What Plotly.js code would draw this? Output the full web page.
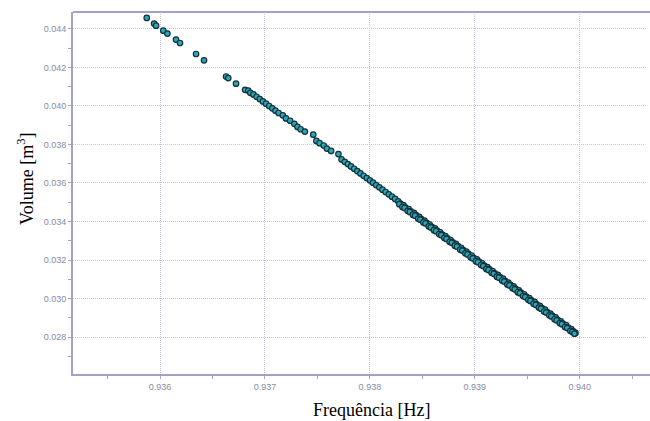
<!DOCTYPE html>
<html>
<head>
<meta charset="utf-8">
<script src="https://cdn.plot.ly/plotly-3.0.1.min.js"></script>
<style>html,body{margin:0;padding:0;background:#fff;overflow:hidden;}#chart{width:650px;height:421px;}</style>
</head>
<body>
<div id="chart"></div>
<script>
// Frequência [Hz]
const freq = [
  0.935873, 0.935943, 0.935962, 0.936031, 0.936070, 0.936152, 0.936190, 0.936343, 0.936419,
  0.936629, 0.936650, 0.936724, 0.936810,
  0.93684, 0.93686, 0.93689, 0.93692, 0.93695, 0.93698, 0.93701, 0.93704, 0.93707, 0.93710,
  0.93713, 0.93717, 0.93720, 0.93724, 0.93728, 0.93731, 0.93734, 0.93738, 0.93746, 0.93749,
  0.93752, 0.93756, 0.93759, 0.93763, 0.93770, 0.93773, 0.93776, 0.93779, 0.93782, 0.93785,
  0.93788, 0.93791, 0.93794, 0.93797, 0.93800, 0.93803, 0.93806, 0.93809, 0.93812, 0.93815,
  0.93818, 0.93821, 0.93824, 0.93827, 0.93829, 0.93832, 0.93834, 0.93837, 0.93839, 0.93842,
  0.93844, 0.93847, 0.93849, 0.93852, 0.93854, 0.93857, 0.93859, 0.93862, 0.93864, 0.93867,
  0.93869, 0.93872, 0.93874, 0.93877, 0.93879, 0.93882, 0.93884, 0.93887, 0.93889, 0.93892,
  0.93894, 0.93897, 0.93899, 0.93902, 0.93904, 0.93907, 0.93909, 0.93912, 0.93914, 0.93917,
  0.93919, 0.93922, 0.93924, 0.93927, 0.93929, 0.93932, 0.93934, 0.93937, 0.93939, 0.93942,
  0.93944, 0.93947, 0.93949, 0.93952, 0.93954, 0.93957, 0.93959, 0.93962, 0.93964, 0.93967,
  0.93969, 0.93972, 0.93974, 0.93977, 0.93979, 0.93982, 0.93984, 0.93987, 0.93989, 0.93992,
  0.93994, 0.93996
];
// Volume [m³]
const volume = [
  0.04457, 0.04428, 0.04417, 0.04391, 0.04376, 0.04345, 0.04327, 0.04270, 0.04237,
  0.04153, 0.04145, 0.04116, 0.04084,
  0.040801, 0.040680, 0.040600, 0.040479, 0.040359, 0.040238, 0.040117, 0.039997, 0.039876, 0.039755,
  0.039635, 0.039514, 0.039353, 0.039233, 0.039072, 0.038911, 0.038790, 0.038670, 0.038509, 0.038187,
  0.038066, 0.037946, 0.037785, 0.037664, 0.037503, 0.037222, 0.037101, 0.036980, 0.036860, 0.036739,
  0.036618, 0.036498, 0.036377, 0.036256, 0.036136, 0.036015, 0.035894, 0.035774, 0.035653, 0.035532,
  0.035412, 0.035291, 0.035170, 0.035050, 0.034929, 0.034849, 0.034728, 0.034648, 0.034527, 0.034446,
  0.034326, 0.034245, 0.034125, 0.034044, 0.033924, 0.033843, 0.033722, 0.033642, 0.033521, 0.033441,
  0.033320, 0.033240, 0.033119, 0.033039, 0.032918, 0.032838, 0.032717, 0.032636, 0.032516, 0.032435,
  0.032315, 0.032234, 0.032114, 0.032033, 0.031913, 0.031832, 0.031712, 0.031631, 0.031510, 0.031430,
  0.031309, 0.031229, 0.031108, 0.031028, 0.030907, 0.030827, 0.030706, 0.030626, 0.030505, 0.030424,
  0.030304, 0.030223, 0.030103, 0.030022, 0.029902, 0.029821, 0.029701, 0.029620, 0.029499, 0.029419,
  0.029298, 0.029218, 0.029097, 0.029017, 0.028896, 0.028816, 0.028695, 0.028615, 0.028494, 0.028413,
  0.028293, 0.028212
];
// denser run of readings in the lower part of the curve
const freqDense = [
  0.93828, 0.93831, 0.93833, 0.93836, 0.93838, 0.93841, 0.93843, 0.93846, 0.93848, 0.93851,
  0.93853, 0.93856, 0.93858, 0.93861, 0.93863, 0.93866, 0.93868, 0.93871, 0.93873, 0.93876,
  0.93878, 0.93881, 0.93883, 0.93886, 0.93888, 0.93891, 0.93893, 0.93896, 0.93898, 0.93901,
  0.93903, 0.93906, 0.93908, 0.93911, 0.93913, 0.93916, 0.93918, 0.93921, 0.93923, 0.93926,
  0.93928, 0.93931, 0.93933, 0.93936, 0.93938, 0.93941, 0.93943, 0.93946, 0.93948, 0.93951,
  0.93953, 0.93956, 0.93958, 0.93961, 0.93963, 0.93966, 0.93968, 0.93971, 0.93973, 0.93976,
  0.93978, 0.93981, 0.93983, 0.93986, 0.93988, 0.93991, 0.93993, 0.93995
];
const volumeDense = [
  0.034901, 0.034756, 0.034700, 0.034555, 0.034499, 0.034354, 0.034298, 0.034153, 0.034096, 0.033952,
  0.033895, 0.033751, 0.033694, 0.033550, 0.033493, 0.033349, 0.033292, 0.033147, 0.033091, 0.032946,
  0.032890, 0.032745, 0.032689, 0.032544, 0.032488, 0.032343, 0.032287, 0.032142, 0.032085, 0.031941,
  0.031884, 0.031740, 0.031683, 0.031539, 0.031482, 0.031338, 0.031281, 0.031136, 0.031080, 0.030935,
  0.030879, 0.030734, 0.030678, 0.030533, 0.030477, 0.030332, 0.030276, 0.030131, 0.030074, 0.029930,
  0.029873, 0.029729, 0.029672, 0.029528, 0.029471, 0.029327, 0.029270, 0.029125, 0.029069, 0.028924,
  0.028868, 0.028723, 0.028667, 0.028522, 0.028466, 0.028321, 0.028264, 0.028172
];
const xTicks = [0.936, 0.937, 0.938, 0.939, 0.940];
const xTickText = ["0.936", "0.937", "0.938", "0.939", "0.940"];
const yTicks = [0.028, 0.030, 0.032, 0.034, 0.036, 0.038, 0.040, 0.042, 0.044];
const yTickText = ["0.028", "0.030", "0.032", "0.034", "0.036", "0.038", "0.040", "0.042", "0.044"];
const xTitle = 'Frequência [Hz]';
const yTitle = 'Volume [m<sup>3</sup>]';

const axisColor = '#a2a2c6';
const gridColor = '#c6c6e0';
const tickFont = {family: 'Arial, "Liberation Sans", sans-serif', size: 9, color: '#8a8aa6'};
const titleFont = {family: '"Liberation Serif", "Times New Roman", serif', size: 18, color: '#000'};
const markerStyle = {size: 5.5, color: '#2aa8b8', line: {color: '#14303a', width: 1.2}};

const traces = [
  {x: freq, y: volume, type: 'scatter', mode: 'markers', marker: markerStyle, showlegend: false},
  {x: freqDense, y: volumeDense, type: 'scatter', mode: 'markers', marker: markerStyle, showlegend: false}
];

const W = 650, H = 421, L = 73, R = 0, T = 12, B = 47;
const pw = W - L - R, ph = H - T - B;

const layout = {
  width: W, height: H,
  margin: {l: L, r: R, t: T, b: B},
  paper_bgcolor: '#fff', plot_bgcolor: '#fff',
  xaxis: {
    range: [0.93517, 0.94067],
    tickvals: xTicks, ticktext: xTickText,
    tickfont: tickFont,
    showline: true, linecolor: axisColor, linewidth: 2, mirror: false,
    showgrid: true, gridcolor: gridColor, griddash: '1px,1px', gridwidth: 1,
    zeroline: false,
    ticks: 'outside', ticklen: 3, tickcolor: axisColor,
    minor: {dtick: 0.0005, tick0: 0.9355, ticks: 'outside', ticklen: 3, tickcolor: axisColor, showgrid: false}
  },
  yaxis: {
    range: [0.02608, 0.04488],
    tickvals: yTicks, ticktext: yTickText,
    tickfont: tickFont,
    showline: true, linecolor: axisColor, linewidth: 2, mirror: false,
    showgrid: true, gridcolor: gridColor, griddash: '1px,1px', gridwidth: 1,
    zeroline: false,
    ticks: 'outside', ticklen: 3, tickcolor: axisColor,
    minor: {dtick: 0.001, tick0: 0.027, ticks: 'outside', ticklen: 3, tickcolor: axisColor, showgrid: false}
  },
  annotations: [
    {text: xTitle, xref: 'paper', yref: 'paper', x: (371 - L) / pw, y: -(410 - (T + ph)) / ph,
     xanchor: 'center', yanchor: 'middle', showarrow: false, font: titleFont},
    {text: yTitle, xref: 'paper', yref: 'paper', x: -(L - 25) / pw, y: ((T + ph) - 179) / ph,
     xanchor: 'center', yanchor: 'middle', textangle: -90, showarrow: false, font: titleFont}
  ],
  shapes: [
    {type: 'rect', xref: 'paper', yref: 'paper', x0: 0.992, x1: 1.01, y0: 0.004, y1: 0.998,
     fillcolor: '#ffffff', line: {width: 0}, layer: 'above'},
    {type: 'line', xref: 'paper', yref: 'paper', x0: 0, x1: 1, y0: 1, y1: 1,
     line: {color: axisColor, width: 2}}
  ]
};

Plotly.newPlot('chart', traces, layout, {displayModeBar: false, staticPlot: true});
</script>
</body>
</html>
